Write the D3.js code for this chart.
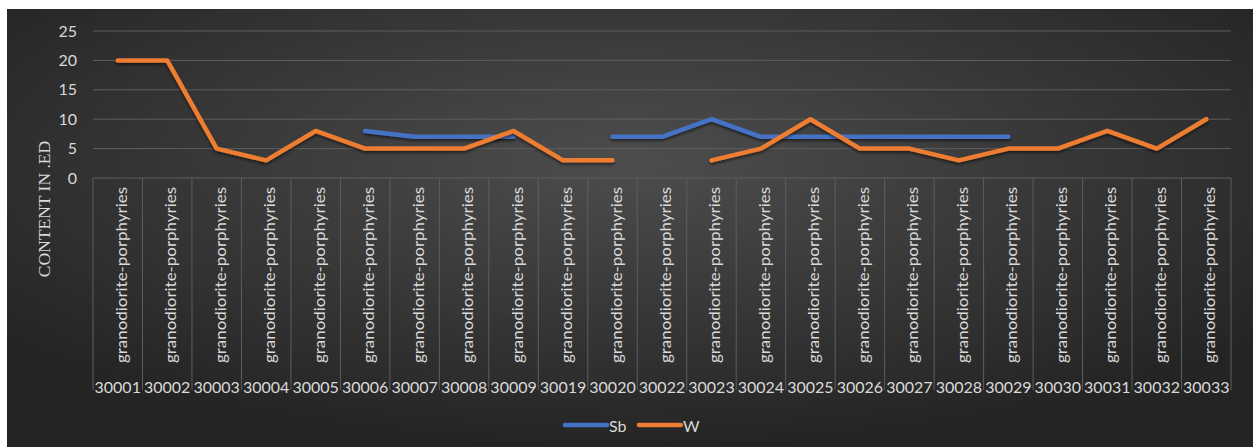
<!DOCTYPE html>
<html>
<head>
<meta charset="utf-8">
<script src="https://cdn.jsdelivr.net/npm/d3@7"></script>
<style>
  html, body { margin: 0; padding: 0; background: #fff; }
  svg { display: block; }
</style>
</head>
<body>
<div id="chart"></div>
<script>
var samples = ["30001", "30002", "30003", "30004", "30005", "30006", "30007", "30008", "30009", "30019",
  "30020", "30022", "30023", "30024", "30025", "30026", "30027", "30028", "30029", "30030",
  "30031", "30032", "30033"];
var rockType = "granodiorite-porphyries";
var sbValues = [null, null, null, null, null, 8, 7, 7, 7, null,
  7, 7, 10, 7, 7, 7, 7, 7, 7, null,
  null, null, null];
var wValues = [20, 20, 5, 3, 8, 5, 5, 5, 8, 3,
  3, null, 3, 5, 10, 5, 5, 3, 5, 5,
  8, 5, 10];
var yTicks = [0, 5, 10, 15, 20, 25];
var seriesNames = ["Sb", "W"];
var seriesColors = ["#4472c4", "#ed7d31"];

var width = 1260,
  height = 447,
  textColor = "#d9d9d9",
  gridColor = "#5e5e5e";

var svg = d3.select("#chart")
  .append("svg")
  .attr("width", width)
  .attr("height", height);

var defs = svg.append("defs");
var grad = defs.append("radialGradient")
  .attr("id", "bg")
  .attr("cx", "50%").attr("cy", "35%").attr("r", "65%");
grad.append("stop").attr("offset", "0%").attr("stop-color", "#4d4d4d");
grad.append("stop").attr("offset", "100%").attr("stop-color", "#242424");

var shadow = defs.append("filter")
  .attr("id", "shadow")
  .attr("x", "-5%").attr("y", "-20%").attr("width", "110%").attr("height", "160%");
shadow.append("feDropShadow")
  .attr("dx", 0).attr("dy", 2).attr("stdDeviation", 1.5)
  .attr("flood-color", "#000").attr("flood-opacity", 0.55);

// chart area
svg.append("rect")
  .attr("x", 7)
  .attr("y", 9)
  .attr("width", 1246)
  .attr("height", height - 9)
  .attr("fill", "url(#bg)");

var plotLeft = 93, plotRight = 1231, plotTop = 31, plotBottom = 178;

var x = d3.scaleBand()
  .domain(samples)
  .range([plotLeft, plotRight]);

var y = d3.scaleLinear()
  .domain([0, 25])
  .range([plotBottom, plotTop]);

// gridlines
svg.append("g")
  .selectAll("line")
  .data(yTicks.filter(function (d) { return d > 0; }))
  .join("line")
  .attr("x1", plotLeft)
  .attr("x2", plotRight)
  .attr("y1", function (d) { return y(d); })
  .attr("y2", function (d) { return y(d); })
  .attr("stroke", gridColor)
  .attr("stroke-width", 1);

// y axis labels
var yAxis = d3.axisLeft(y).tickValues(yTicks).tickSize(0).tickPadding(0);
var yg = svg.append("g")
  .attr("transform", "translate(77,0)")
  .call(yAxis);
yg.select(".domain").remove();
yg.selectAll("text")
  .attr("fill", textColor)
  .attr("font-family", "Lato, sans-serif")
  .attr("font-size", 16);

// y title
svg.append("text")
  .attr("transform", "translate(44," + 209 + ") rotate(-90)")
  .attr("text-anchor", "middle")
  .attr("dominant-baseline", "central")
  .attr("fill", textColor)
  .attr("font-family", "'Liberation Serif', serif")
  .attr("font-size", 17.5)
  .text("CONTENT IN .ED");

// category table
var tableBottom = 390;
var cat = svg.append("g");
cat.append("line")
  .attr("x1", plotLeft).attr("x2", plotRight)
  .attr("y1", plotBottom).attr("y2", plotBottom)
  .attr("stroke", gridColor);
var bounds = samples.map(function (d) { return x(d); }).concat([plotRight]);
cat.selectAll("line.sep")
  .data(bounds)
  .join("line")
  .attr("class", "sep")
  .attr("x1", function (d) { return d; })
  .attr("x2", function (d) { return d; })
  .attr("y1", plotBottom)
  .attr("y2", tableBottom)
  .attr("stroke", gridColor);

cat.selectAll("text.rock")
  .data(samples)
  .join("text")
  .attr("class", "rock")
  .attr("transform", function (d) {
    return "translate(" + (x(d) + x.bandwidth() / 2 + 3) + "," + 363 + ") rotate(-90)";
  })
  .attr("dominant-baseline", "central")
  .attr("fill", textColor)
  .attr("font-family", "Lato, sans-serif")
  .attr("font-size", 15)
  .attr("textLength", 176)
  .attr("lengthAdjust", "spacingAndGlyphs")
  .text(rockType);

cat.selectAll("text.id")
  .data(samples)
  .join("text")
  .attr("class", "id")
  .attr("x", function (d) { return x(d) + x.bandwidth() / 2; })
  .attr("y", 393)
  .attr("text-anchor", "middle")
  .attr("fill", textColor)
  .attr("font-family", "Lato, sans-serif")
  .attr("font-size", 16)
  .text(function (d) { return d; });

// lines
var line = d3.line()
  .defined(function (d) { return d != null; })
  .x(function (d, i) { return x(samples[i]) + x.bandwidth() / 2; })
  .y(function (d) { return y(d); });

[sbValues, wValues].forEach(function (vals, k) {
  svg.append("path")
    .datum(vals)
    .attr("d", line)
    .attr("fill", "none")
    .attr("stroke", seriesColors[k])
    .attr("stroke-width", 4.5)
    .attr("stroke-linejoin", "round")
    .attr("stroke-linecap", "round")
    .attr("filter", "url(#shadow)");
});

// legend
var legendX = [565, 639];
var lg = svg.append("g");
seriesNames.forEach(function (name, k) {
  lg.append("line")
    .attr("x1", legendX[k]).attr("x2", legendX[k] + 42)
    .attr("y1", 425).attr("y2", 425)
    .attr("stroke", seriesColors[k])
    .attr("stroke-width", 4.5)
    .attr("stroke-linecap", "round");
  lg.append("text")
    .attr("x", legendX[k] + 44)
    .attr("y", 425)
    .attr("dominant-baseline", "central")
    .attr("fill", textColor)
    .attr("font-family", "Lato, sans-serif")
    .attr("font-size", 16)
    .text(name);
});
</script>
</body>
</html>
